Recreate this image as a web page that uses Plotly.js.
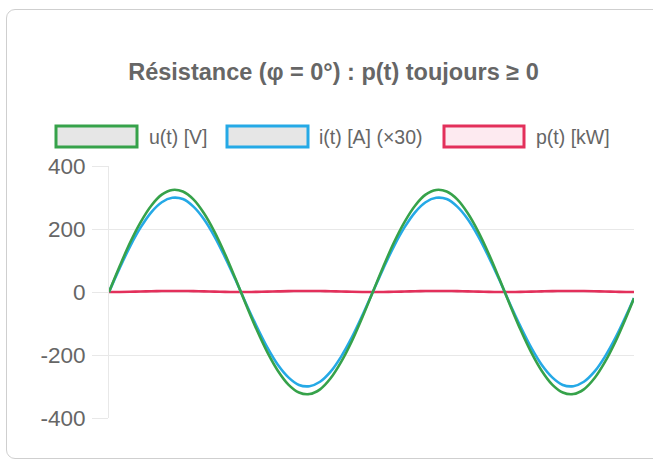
<!DOCTYPE html>
<html>
<head>
<meta charset="utf-8">
<script src="https://cdn.plot.ly/plotly-3.0.1.min.js"></script>
<style>
  html, body { margin: 0; padding: 0; background: #ffffff; overflow: hidden; }
  #card { position: absolute; left: 6px; top: 9px; width: 680px; height: 448px;
          border: 1px solid #cfcfcf; border-radius: 9px; background: #fff; }
  #chart { position: absolute; left: 0; top: 0; width: 653px; height: 461px; }
</style>
</head>
<body>
<div id="card"></div>
<div id="chart"></div>
<script>
// ---- data (time in ms, sampled over two 50 Hz periods) ----
const timeMs = [0,0.8,1.6,2.4,3.2,4,4.8,5.6,6.4,7.2,8,8.8,9.6,10.4,11.2,12,12.8,13.6,14.4,15.2,16,16.8,17.6,18.4,19.2,
                20,20.8,21.6,22.4,23.2,24,24.8,25.6,26.4,27.2,28,28.8,29.6,30.4,31.2,32,32.8,33.6,34.4,35.2,36,36.8,37.6,38.4,39.2,39.8];
const voltageV = [0,81,157,222,274,309,324,319,294,250,191,120,41,-41,-120,-191,-250,-294,-319,-324,-309,-274,-222,-157,-81,
                  0,81,157,222,274,309,324,319,294,250,191,120,41,-41,-120,-191,-250,-294,-319,-324,-309,-274,-222,-157,-81,-20];
const currentX30 = [0,75,145,205,253,285,299,295,271,231,176,110,38,-38,-110,-176,-231,-271,-295,-299,-285,-253,-205,-145,-75,
                    0,75,145,205,253,285,299,295,271,231,176,110,38,-38,-110,-176,-231,-271,-295,-299,-285,-253,-205,-145,-75,-19];
const powerKW = [0,0.2,0.75,1.52,2.32,2.94,3.24,3.14,2.66,1.93,1.12,0.44,0.05,0.05,0.44,1.12,1.93,2.66,3.14,3.24,2.94,2.32,1.52,0.75,0.2,
                 0,0.2,0.75,1.52,2.32,2.94,3.24,3.14,2.66,1.93,1.12,0.44,0.05,0.05,0.44,1.12,1.93,2.66,3.14,3.24,2.94,2.32,1.52,0.75,0.2,0.01];
const seriesNames = ["u(t) [V]", "i(t) [A] (×30)", "p(t) [kW]"];
const titleText = "Résistance (φ = 0°) : p(t) toujours ≥ 0";
const yTicks = [-400, -200, 0, 200, 400];

// ---- styles ----
const colors = ["#36a24a", "#25a9e6", "#e3305b"];
const fills = ["#e6e6e6", "#e6e6e6", "#fdeaf0"];
const FONT = "Liberation Sans, Arial, Helvetica, sans-serif";

const W = 653, H = 461;
const L = 109, R = 634, T = 166, B = 418;
const px2x = p => (p - L) / (R - L);
const px2y = p => (B - p) / (B - T);

const traces = [
  {x: timeMs, y: powerKW, name: seriesNames[2], mode: "lines", line: {color: colors[2], width: 2.6, shape: "spline"}},
  {x: timeMs, y: currentX30, name: seriesNames[1], mode: "lines", line: {color: colors[1], width: 2.6, shape: "spline"}},
  {x: timeMs, y: voltageV, name: seriesNames[0], mode: "lines", line: {color: colors[0], width: 2.6, shape: "spline"}}
];

// manual legend (Chart.js style boxes)
const legendItems = [
  {box: [56, 137], text: 147},
  {box: [227, 308], text: 317},
  {box: [444, 524], text: 534}
];
const shapes = [];
const annotations = [];
legendItems.forEach((it, idx) => {
  shapes.push({type: "rect", xref: "paper", yref: "paper",
    x0: px2x(it.box[0]), x1: px2x(it.box[1]), y0: px2y(147), y1: px2y(126),
    line: {color: colors[idx], width: 3}, fillcolor: fills[idx]});
  annotations.push({xref: "paper", yref: "paper", x: px2x(it.text), y: px2y(136.5),
    xanchor: "left", yanchor: "middle", showarrow: false, text: seriesNames[idx],
    font: {family: FONT, size: 19.5, color: "#666"}});
});

const layout = {
  width: W, height: H,
  margin: {l: L, r: W - R, t: T, b: H - B, pad: 0},
  paper_bgcolor: "rgba(0,0,0,0)", plot_bgcolor: "rgba(0,0,0,0)",
  showlegend: false,
  title: {text: "<b>" + titleText + "</b>", xref: "container", yref: "container",
          x: 333.5 / W, y: 1 - 72 / H, xanchor: "center", yanchor: "middle",
          font: {family: FONT, size: 23.5, color: "#666"}},
  xaxis: {range: [timeMs[0], timeMs[timeMs.length - 1]], showticklabels: false, showgrid: false,
          zeroline: false, showline: false, ticks: ""},
  yaxis: {range: [-400, 400], tickvals: yTicks, ticktext: yTicks.map(String),
          showgrid: true, gridcolor: "#e8e8e8", gridwidth: 1, zeroline: false,
          showline: true, linecolor: "#e8e8e8", linewidth: 1,
          ticks: "outside", ticklen: 16, tickcolor: "#e8e8e8", tickwidth: 1,
          ticklabelstandoff: 2,
          tickfont: {family: FONT, size: 22.5, color: "#666"}},
  shapes: shapes,
  annotations: annotations
};

Plotly.newPlot("chart", traces, layout, {staticPlot: true, displayModeBar: false});
</script>
</body>
</html>
